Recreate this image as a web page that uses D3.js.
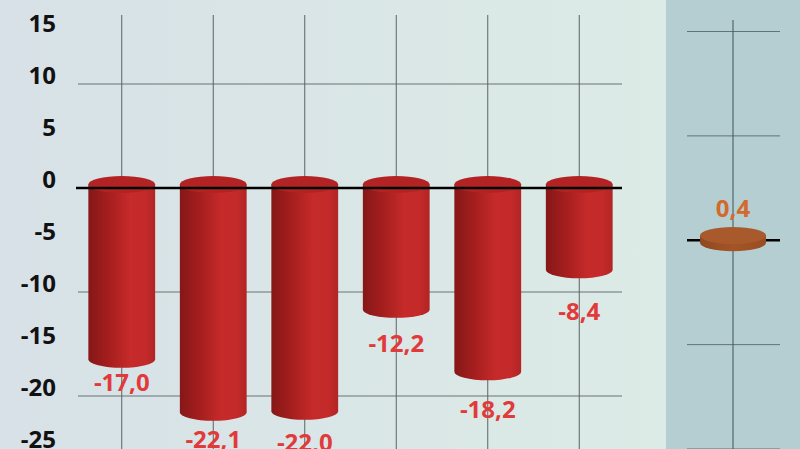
<!DOCTYPE html>
<html><head><meta charset="utf-8">
<script src="https://cdn.jsdelivr.net/npm/d3@7/dist/d3.min.js"></script>
<style>html,body{margin:0;padding:0;overflow:hidden;background:#fff}svg{display:block}</style>
</head><body>
<svg id="chart" width="800" height="449"></svg>
<script>
// ---- data ----
const categories = ["1", "2", "3", "4", "5", "6"];
const values = [-17.0, -22.1, -22.0, -12.2, -18.2, -8.4];
const yTicks = [15, 10, 5, 0, -5, -10, -15, -20, -25];
const gridTicks = [10, -10, -20];
const sideCategory = ["total"];
const sideValues = [0.4];
const sideGridTicks = [20, 10, -10, -20];

const W = 800, H = 449;
const svg = d3.select("#chart");
const defs = svg.append("defs");
const fontFam = "'Open Sans', 'Liberation Sans', sans-serif";
const loc = d3.formatLocale({decimal: ",", thousands: ".", grouping: [3], currency: ["", ""], minus: "-"});
const fmt = loc.format(".1f");
const fmtInt = loc.format("d");

// backgrounds
const bg = defs.append("linearGradient").attr("id", "bgL").attr("x1", 0).attr("x2", 1).attr("y1", 0).attr("y2", 0);
bg.append("stop").attr("offset", "0%").attr("stop-color", "#d7e1e7");
bg.append("stop").attr("offset", "100%").attr("stop-color", "#dcebe6");
svg.append("rect").attr("x", 0).attr("y", 0).attr("width", 666).attr("height", H).attr("fill", "url(#bgL)");
svg.append("rect").attr("x", 666).attr("y", 0).attr("width", 134).attr("height", H).attr("fill", "#b4ced2");

// bar gradients
const bgr = defs.append("linearGradient").attr("id", "cyl").attr("x1", 0).attr("x2", 1).attr("y1", 0).attr("y2", 0);
[["0%", "#861717"], ["30%", "#a51e1e"], ["62%", "#c62a2a"], ["85%", "#c42a2a"], ["100%", "#b22424"]]
  .forEach(s => bgr.append("stop").attr("offset", s[0]).attr("stop-color", s[1]));
const dgr = defs.append("linearGradient").attr("id", "disc").attr("x1", 0).attr("x2", 1).attr("y1", 0).attr("y2", 0);
[["0%", "#8f4820"], ["50%", "#a45426"], ["100%", "#9a4d22"]]
  .forEach(s => dgr.append("stop").attr("offset", s[0]).attr("stop-color", s[1]));

// scales
const x = d3.scaleBand().domain(categories).range([76, 625]).paddingInner(0.27).paddingOuter(0.135);
const y = d3.scaleLinear().domain([-25, 15]).range([448, 32]);
const xs = d3.scaleBand().domain(sideCategory).range([700, 766]);
const ys = d3.scaleLinear().domain([-20, 20]).range([449, 31.5]);

// gridlines (left)
const gx0 = 78, gx1 = 622;
svg.append("g").selectAll("line").data(gridTicks).join("line")
  .attr("x1", gx0).attr("x2", gx1).attr("y1", d => y(d)).attr("y2", d => y(d))
  .attr("stroke", "#6b7373").attr("stroke-width", 1);
svg.append("g").selectAll("line").data(categories).join("line")
  .attr("x1", d => x(d) + x.bandwidth() / 2).attr("x2", d => x(d) + x.bandwidth() / 2)
  .attr("y1", 15).attr("y2", H).attr("stroke", "#5b6363").attr("stroke-width", 1);

// y axis labels
const axis = d3.axisLeft(y).tickValues(yTicks).tickSize(0).tickPadding(0).tickFormat(fmtInt);
const ag = svg.append("g").attr("transform", "translate(56,-8)").call(axis);
ag.select(".domain").remove();
ag.selectAll("text").attr("font-family", fontFam).attr("font-weight", "bold").attr("font-size", 24).attr("fill", "#111");

// cylinders
const ry = 8.5;
const bars = svg.append("g");
categories.forEach((c, i) => {
  const v = values[i];
  const cx = x(c) + x.bandwidth() / 2;
  const r = x.bandwidth() / 2;
  const yt = y(0) - 3.5;
  const yb = y(v) - 5.5;
  bars.append("path")
    .attr("d", `M${cx - r},${yt} L${cx - r},${yb} A${r},${ry} 0 0 0 ${cx + r},${yb} L${cx + r},${yt} Z`)
    .attr("fill", "url(#cyl)");
  bars.append("ellipse").attr("cx", cx).attr("cy", yt).attr("rx", r).attr("ry", ry).attr("fill", "#b42323");
  const labelOff = 18 + 3.6 * i;
  bars.append("text").attr("x", cx).attr("y", y(v) + labelOff + 8.5)
    .attr("text-anchor", "middle").attr("font-family", fontFam).attr("font-weight", "bold")
    .attr("font-size", 24).attr("fill", "#e23a3a").text(fmt(v));
});

// zero line
svg.append("line").attr("x1", gx0 - 2).attr("x2", gx1).attr("y1", y(0)).attr("y2", y(0))
  .attr("stroke", "#000").attr("stroke-width", 2.6);

// right panel
const sx0 = 687, sx1 = 780;
svg.append("g").selectAll("line").data(sideGridTicks).join("line")
  .attr("x1", sx0).attr("x2", sx1).attr("y1", d => ys(d)).attr("y2", d => ys(d))
  .attr("stroke", "#5e7478").attr("stroke-width", 1);
svg.append("line").attr("x1", sx0).attr("x2", sx1).attr("y1", ys(0)).attr("y2", ys(0))
  .attr("stroke", "#000").attr("stroke-width", 2.6);
svg.append("line").attr("x1", xs(sideCategory[0]) + xs.bandwidth() / 2).attr("x2", xs(sideCategory[0]) + xs.bandwidth() / 2)
  .attr("y1", 20).attr("y2", H).attr("stroke", "#3f5559").attr("stroke-width", 1);

sideCategory.forEach((c, i) => {
  const v = sideValues[i];
  const cx = xs(c) + xs.bandwidth() / 2;
  const r = xs.bandwidth() / 2;
  const dry = 8.5;
  const yt = ys(v) - 0.5;
  const yb = ys(0) + 2.5;
  svg.append("path")
    .attr("d", `M${cx - r},${yt} L${cx - r},${yb} A${r},${dry} 0 0 0 ${cx + r},${yb} L${cx + r},${yt} Z`)
    .attr("fill", "url(#disc)");
  svg.append("ellipse").attr("cx", cx).attr("cy", yt).attr("rx", r).attr("ry", dry).attr("fill", "#a95a2c");
  svg.append("text").attr("x", cx).attr("y", yt - 19)
    .attr("text-anchor", "middle").attr("font-family", fontFam).attr("font-weight", "bold")
    .attr("font-size", 24).attr("fill", "#d3692a").text(fmt(v));
});
</script>
</body></html>
